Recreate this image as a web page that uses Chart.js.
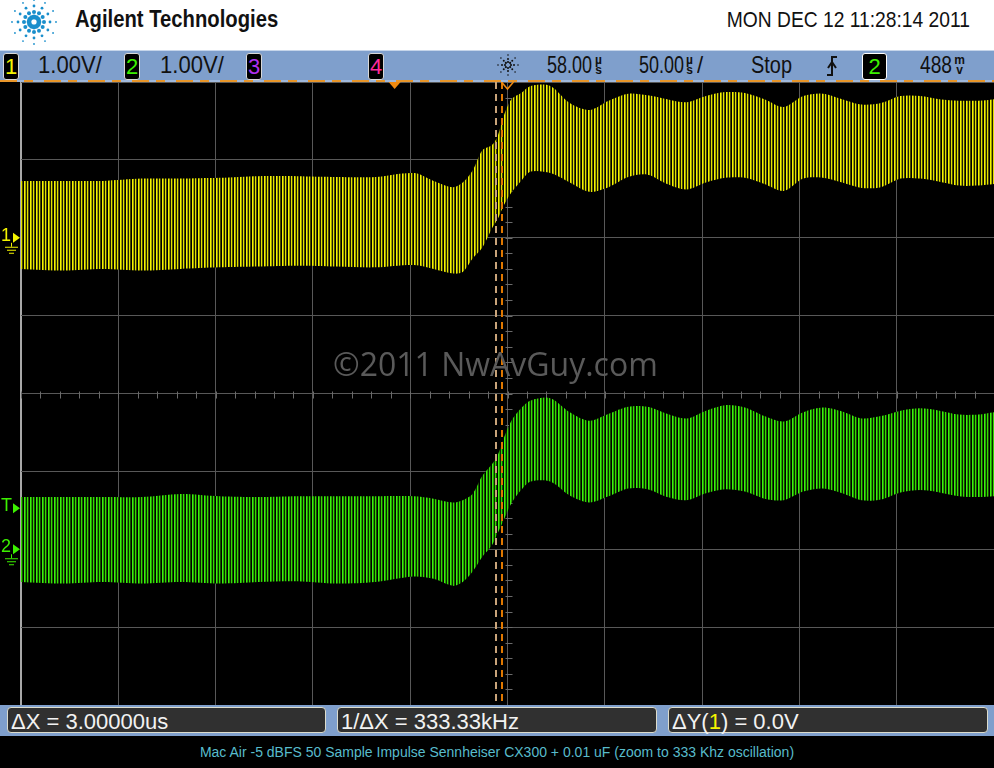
<!DOCTYPE html>
<html>
<head>
<meta charset="utf-8">
<script src="https://cdn.jsdelivr.net/npm/chart.js@4.4.1/dist/chart.umd.min.js"></script>
<style>
  body { margin: 0; width: 994px; height: 768px; overflow: hidden; background: #000; position: relative;
         font-family: "Liberation Sans", Arial, sans-serif; }
  .abs { position: absolute; white-space: nowrap; }
  #header { left: 0; top: 0; width: 994px; height: 50px; background: #fff; }
  #brand { left: 75px; top: 8px; font-size: 23px; line-height: 23px; font-weight: bold; color: #111;
           transform: scaleX(0.88); transform-origin: left; }
  #date { right: 24px; top: 9px; font-size: 22px; line-height: 22px; color: #111;
          transform: scaleX(0.875); transform-origin: right; }
  #status { left: 0; top: 50px; width: 994px; height: 32px; background: #7f9fcc; border-top: 1px solid #c6d5ea; box-sizing: border-box; }
  #memstrip { left: 0; top: 80px; width: 994px; height: 2px;
              background: repeating-linear-gradient(90deg, #e8962a 0 17px, #9fb8dc 17px 24px, #e8962a 24px 33px, #9fb8dc 33px 44px); }
  .st { top: 49px; font-size: 24px; line-height: 32px; color: #111; transform: scaleX(0.92); transform-origin: left; }
  .st.num { transform: scaleX(0.75); }
  .st.word { transform: scaleX(0.83); }
  .chbox { top: 53px; width: 14px; height: 25px; background: #000; border: 1px solid #d8d8d8; border-radius: 3px;
           font-size: 22px; line-height: 25px; text-align: center; }
  .unit { top: 55px; width: 13px; font-size: 12px; line-height: 10px; font-weight: bold; color: #111; text-align: center; }
  #scope { left: 0; top: 82px; }
  #bottom { left: 0; top: 705px; width: 994px; height: 31px; background: #7f9fcc; }
  .mbox { top: 707px; height: 26px; background: #303030; border: 1px solid #dcdccc; border-radius: 4px;
          color: #f2f2f2; font-size: 22px; line-height: 27px; padding-left: 3px; box-sizing: border-box; }
  #caption { left: 0; top: 742px; width: 994px; text-align: center; font-size: 14px; line-height: 20px; color: #58bccc; }
  #mark { left: 333px; top: 342px; font-family: "Open Sans", sans-serif; font-size: 32px; color: #5a5a5a; }
</style>
</head>
<body>
<div id="header" class="abs">
  <svg id="spark" class="abs" style="left:0;top:0" width="70" height="50"></svg>
  <div id="brand" class="abs">Agilent Technologies</div>
  <div id="date" class="abs">MON DEC 12 11:28:14 2011</div>
</div>
<div id="status" class="abs"></div>
<div class="abs chbox" style="left:3px;color:#f4f400">1</div>
<div class="abs st" style="left:38px">1.00V/</div>
<div class="abs chbox" style="left:124px;color:#3cf000">2</div>
<div class="abs st" style="left:160px">1.00V/</div>
<div class="abs chbox" style="left:246px;color:#b030f0">3</div>
<div class="abs chbox" style="left:368px;color:#ff2a9a">4</div>
<svg id="acq" class="abs" style="left:494px;top:50px" width="28" height="30"></svg>
<div class="abs st num" style="left:547px">58.00</div>
<div class="abs unit" style="left:592px">µ<br>s</div>
<div class="abs st num" style="left:639px">50.00</div>
<div class="abs unit" style="left:683px">µ<br>s</div>
<div class="abs st" style="left:697px">/</div>
<div class="abs st word" style="left:751px">Stop</div>
<svg class="abs" style="left:824px;top:54px" width="16" height="24">
  <path d="M3 21 H8 V3 H13" stroke="#111" stroke-width="2" fill="none"/>
  <path d="M4 14 L8 8 L12 14" stroke="#111" stroke-width="2" fill="none"/>
</svg>
<div class="abs chbox" style="left:862px;width:23px;border-color:#fff;color:#3cf000">2</div>
<div class="abs st num" style="left:920px;transform:scaleX(0.8)">488</div>
<div class="abs unit" style="left:953px">m<br>v</div>
<div id="memstrip" class="abs"></div>

<canvas id="scope" class="abs" width="994" height="623"></canvas>
<div id="mark" class="abs">©2011 NwAvGuy.com</div>

<div id="bottom" class="abs"></div>
<div class="abs mbox" style="left:7px;width:319px">ΔX = 3.00000us</div>
<div class="abs mbox" style="left:337px;width:320px">1/ΔX = 333.33kHz</div>
<div class="abs mbox" style="left:668px;width:320px">ΔY(<span style="color:#f4f400">1</span>) = 0.0V</div>
<div id="caption" class="abs">Mac Air -5 dBFS 50 Sample Impulse Sennheiser CX300 + 0.01 uF (zoom to 333 Khz oscillation)</div>

<script>
// time base and channel settings
const delayUs = 58;
const timePerDivUs = 50;
const triggerLevelV = 0.488;
const cursorUs = [52, 55];

// envelope of the 333 kHz ringing (volts)
const timeUs = [-192, -170, -150, -130, -110, -90, -70, -50, -30, -10,
                10, 20, 30, 35, 40, 45, 50, 53, 56, 60,
                65, 70, 80, 90, 100, 110, 120, 130, 140, 150,
                160, 170, 180, 190, 200, 210, 220, 230, 240, 250,
                260, 270, 280, 290, 300, 308];
const ch1Top = [0.73, 0.73, 0.73, 0.76, 0.76, 0.77, 0.79, 0.79, 0.78, 0.78,
                0.83, 0.73, 0.65, 0.71, 0.86, 1.12, 1.19, 1.31, 1.56, 1.78,
                1.86, 1.95, 1.95, 1.73, 1.64, 1.76, 1.85, 1.83, 1.78, 1.74,
                1.82, 1.87, 1.86, 1.78, 1.68, 1.82, 1.85, 1.78, 1.71, 1.73,
                1.82, 1.82, 1.78, 1.76, 1.76, 1.78];
const ch1Bottom = [-0.40, -0.42, -0.40, -0.42, -0.40, -0.38, -0.37, -0.36, -0.37, -0.38,
                   -0.35, -0.40, -0.46, -0.44, -0.27, -0.13, 0.12, 0.24, 0.41, 0.58,
                   0.73, 0.85, 0.83, 0.71, 0.59, 0.65, 0.78, 0.81, 0.69, 0.62,
                   0.71, 0.77, 0.77, 0.69, 0.60, 0.76, 0.77, 0.71, 0.64, 0.65,
                   0.76, 0.76, 0.72, 0.67, 0.67, 0.69];
const ch2Top = [0.67, 0.67, 0.67, 0.67, 0.71, 0.68, 0.67, 0.68, 0.68, 0.68,
                0.68, 0.65, 0.60, 0.63, 0.71, 0.94, 1.09, 1.21, 1.42, 1.65,
                1.81, 1.91, 1.94, 1.76, 1.65, 1.74, 1.83, 1.83, 1.74, 1.68,
                1.78, 1.85, 1.82, 1.71, 1.64, 1.76, 1.82, 1.77, 1.68, 1.71,
                1.78, 1.81, 1.78, 1.73, 1.73, 1.76];
const ch2Bottom = [-0.42, -0.44, -0.42, -0.44, -0.42, -0.44, -0.42, -0.41, -0.44, -0.42,
                   -0.35, -0.38, -0.47, -0.42, -0.29, -0.10, 0.05, 0.21, 0.37, 0.59,
                   0.76, 0.87, 0.87, 0.69, 0.60, 0.68, 0.78, 0.77, 0.67, 0.63,
                   0.72, 0.77, 0.74, 0.65, 0.63, 0.74, 0.78, 0.72, 0.63, 0.64,
                   0.73, 0.76, 0.73, 0.68, 0.67, 0.68];

// logos: dotted sparks
const drawSpark = (svg, cx, cy, rays, radii, sizes, color) => {
    let html = '';
    for (let r = 0; r < rays; r++) {
        const a = r * 2 * Math.PI / rays;
        radii.forEach((d, i) => {
            html += `<circle cx="${cx + d * Math.cos(a)}" cy="${cy + d * Math.sin(a)}" r="${sizes[i]}" fill="${color}"/>`;
        });
    }
    svg.innerHTML = html;
};
drawSpark(document.getElementById('spark'), 34, 22, 12, [5, 10, 16, 22], [2.4, 2, 1.4, 0.9], '#1a8fcc');
drawSpark(document.getElementById('acq'), 14, 15, 8, [3, 6, 10], [1.1, 1, 0.8], '#111');

const ctx = document.getElementById('scope').getContext('2d');

// trace texture: bright strokes with dim fill between, one period per 6 px
const stripes = (cols) => {
    const c = document.createElement('canvas');
    c.width = cols.length;
    c.height = 1;
    const g = c.getContext('2d');
    cols.forEach((col, i) => { g.fillStyle = col; g.fillRect(i, 0, 1, 1); });
    return ctx.createPattern(c, 'repeat');
};
const yellowStripes = stripes(['#f4f400', '#9c9c00', '#1e1e00', '#e2e200', '#4a4a00', '#000000']);
const greenStripes = stripes(['#3cf010', '#249e00', '#0a2800', '#32dc00', '#165000', '#000000']);

const pts = (vals) => vals.map((v, i) => ({ x: timeUs[i], y: v }));

const band = (vals, axis, fill) => ({
    data: pts(vals),
    yAxisID: axis,
    borderColor: 'rgba(0,0,0,0)',
    borderWidth: 0,
    pointRadius: 0,
    tension: 0.3,
    fill: fill ? '-1' : false,
    backgroundColor: fill || 'rgba(0,0,0,0)'
});

const scopeMarks = {
    id: 'scopeMarks',
    beforeDatasetsDraw(chart) {
        const { ctx, scales: { x, y } } = chart;
        const cx = Math.round(x.getPixelForValue(delayUs)) + 0.5;
        const cy = Math.round(y.getPixelForValue(-2)) + 0.5;
        ctx.save();
        ctx.strokeStyle = '#6a6a6a';
        ctx.lineWidth = 1;
        ctx.beginPath();
        for (let i = 0; i <= 50; i++) {
            const px = Math.round(x.getPixelForValue(x.min + i * timePerDivUs / 5)) + 0.5;
            ctx.moveTo(px, cy - 3); ctx.lineTo(px, cy + 4);
        }
        for (let i = 0; i <= 40; i++) {
            const py = Math.round(y.getPixelForValue(y.min + i * 0.2)) + 0.5;
            ctx.moveTo(cx - 3, py); ctx.lineTo(cx + 4, py);
        }
        ctx.stroke();
        ctx.restore();
    },
    afterDatasetsDraw(chart) {
        const { ctx, chartArea: a, scales: { x } } = chart;
        ctx.save();
        ctx.lineWidth = 2;
        ctx.setLineDash([7, 5]);
        ['#c9a47a', '#e07800'].forEach((col, i) => {
            const px = Math.round(x.getPixelForValue(cursorUs[i]));
            ctx.strokeStyle = col;
            ctx.beginPath();
            ctx.moveTo(px, a.top);
            ctx.lineTo(px, a.bottom);
            ctx.stroke();
        });
        ctx.restore();
    },
    afterDraw(chart) {
        const { ctx, chartArea: a, scales: { x, y, y2 } } = chart;
        ctx.save();
        // trigger point and delay reference
        const tx = x.getPixelForValue(0);
        ctx.fillStyle = '#f08a10';
        ctx.beginPath();
        ctx.moveTo(tx - 6, a.top); ctx.lineTo(tx + 6, a.top); ctx.lineTo(tx, a.top + 7);
        ctx.fill();
        const dx = x.getPixelForValue(delayUs);
        ctx.strokeStyle = '#f08a10';
        ctx.lineWidth = 1.5;
        ctx.beginPath();
        ctx.moveTo(dx - 6, a.top); ctx.lineTo(dx, a.top + 7); ctx.lineTo(dx + 6, a.top);
        ctx.stroke();

        // channel ground and trigger level markers
        const marker = (label, py, color, ground) => {
            ctx.fillStyle = color;
            ctx.strokeStyle = color;
            ctx.font = '18px "Liberation Sans"';
            ctx.textBaseline = 'middle';
            ctx.fillText(label, 1, py - 2);
            ctx.beginPath();
            ctx.moveTo(13, py - 5); ctx.lineTo(20, py); ctx.lineTo(13, py + 5);
            ctx.fill();
            if (ground) {
                ctx.lineWidth = 1;
                ctx.beginPath();
                ctx.moveTo(11.5, py + 5); ctx.lineTo(11.5, py + 9);
                ctx.moveTo(5, py + 9.5); ctx.lineTo(18, py + 9.5);
                ctx.moveTo(7, py + 12.5); ctx.lineTo(16, py + 12.5);
                ctx.moveTo(9, py + 15.5); ctx.lineTo(14, py + 15.5);
                ctx.stroke();
            }
        };
        marker('1', y.getPixelForValue(0), '#f4f400', true);
        marker('2', y2.getPixelForValue(0), '#3cf000', true);
        marker('T', y2.getPixelForValue(triggerLevelV) - 3, '#3cf000', false);
        ctx.restore();
    }
};

new Chart(ctx, {
    type: 'line',
    data: {
        datasets: [
            band(ch1Top, 'y', null),
            band(ch1Bottom, 'y', yellowStripes),
            band(ch2Top, 'y2', null),
            band(ch2Bottom, 'y2', greenStripes)
        ]
    },
    options: {
        responsive: false,
        animation: false,
        layout: { padding: { left: 21, right: 0, top: 0, bottom: 0 } },
        plugins: { legend: { display: false }, tooltip: { enabled: false } },
        scales: {
            x: {
                type: 'linear',
                min: delayUs - 5 * timePerDivUs,
                max: delayUs + 5 * timePerDivUs,
                afterBuildTicks: (s) => {
                    s.ticks = [];
                    for (let i = 0; i <= 10; i++) s.ticks.push({ value: s.min + i * timePerDivUs });
                },
                ticks: { display: false },
                border: { display: false },
                grid: {
                    drawTicks: false,
                    color: (c) => c.index === 0 ? '#a8a8a8' : '#585858',
                    lineWidth: (c) => c.index === 0 ? 2 : 1
                }
            },
            y: {
                min: -6, max: 2,
                ticks: { display: false, stepSize: 1 },
                border: { display: false },
                grid: { drawTicks: false, color: '#585858' }
            },
            y2: { min: -2, max: 6, display: false }
        }
    },
    plugins: [scopeMarks]
});
</script>
</body>
</html>
